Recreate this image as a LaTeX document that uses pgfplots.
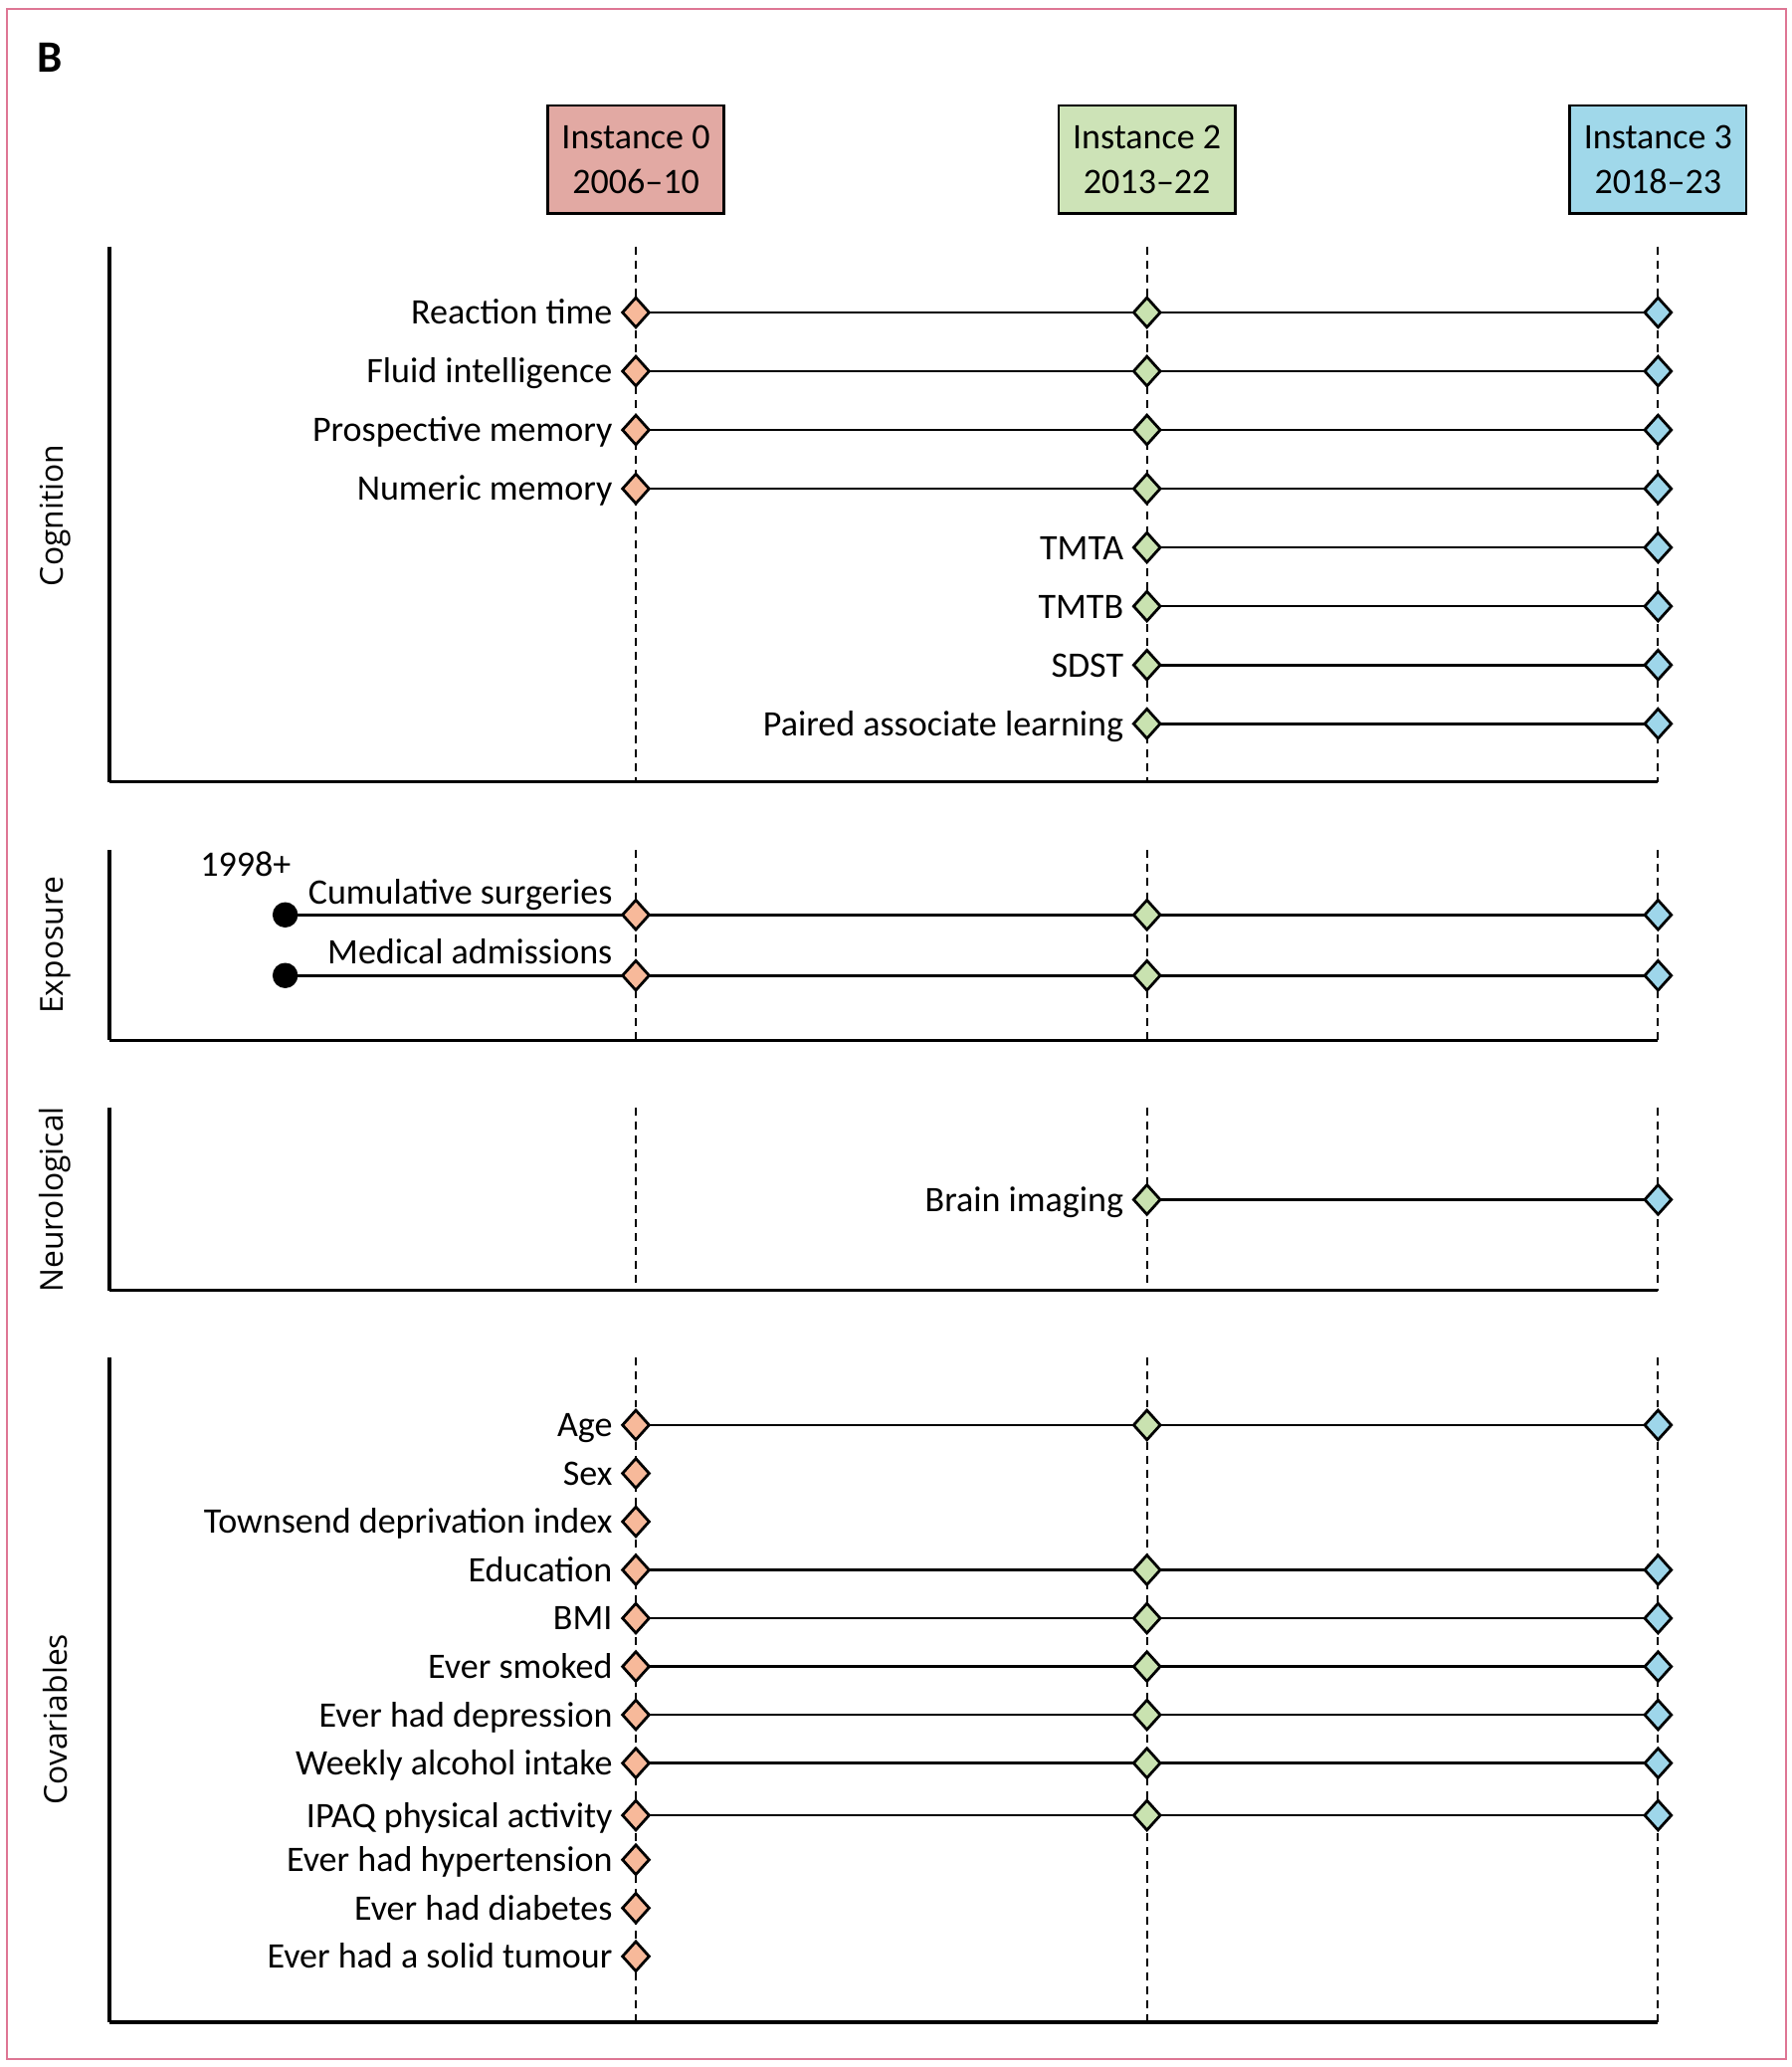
\documentclass[border=0pt]{standalone}
\usepackage{pgfplots}
\pgfplotsset{compat=1.18}
\usepackage{fontspec}
\setmainfont{Carlito}
\newfontfamily\labfont{Open Sans}
\definecolor{framepink}{RGB}{222,118,148}
\definecolor{boxA}{RGB}{226,169,163}
\definecolor{boxB}{RGB}{205,227,183}
\definecolor{boxC}{RGB}{160,216,234}
\definecolor{dA}{RGB}{247,185,154}
\definecolor{dB}{RGB}{201,226,176}
\definecolor{dC}{RGB}{158,214,234}
\newcommand\txt{\fontsize{13.6}{17}\selectfont}
\pgfplotsset{
  panel/.style={scale only axis, width=587.5pt, xmin=-1.03, xmax=2, y dir=reverse,
    axis x line=bottom, axis y line=left, axis line style={-, line width=1.2pt},
    xtick=\empty, ytick=\empty, clip=false},
  vdash/.style={line width=0.75pt, dash pattern=on 3pt off 2.3pt, black},
  rowline/.style={line width=1pt, black, no marks},
  mk/.style={only marks, mark=diamond*, mark options={xscale=1.2, fill=#1, draw=black, line width=1.05pt}, mark size=5.6pt},
}
\tikzset{
  inst/.style={draw=black, line width=1pt, fill=#1, minimum width=67pt, minimum height=41pt,
    align=center, font=\txt, inner sep=0pt},
  lab/.style={anchor=base east, inner sep=0pt, font=\txt, xshift=-8.7pt, yshift=-4.5pt},
  ylab/.style={rotate=90, anchor=center, inner sep=0pt, font=\labfont\fontsize{12}{14}\selectfont},
}
\begin{document}
\begin{tikzpicture}
\path[use as bounding box] (0,0) rectangle (679.5pt,-784pt);
\fill[white] (0,0) rectangle (679.5pt,-784pt);
\draw[framepink, line width=0.8pt] (2.5pt,-3.5pt) rectangle (677.5pt,-781pt);
\node[font=\bfseries\fontsize{17}{20}\selectfont, inner sep=0pt] at (19pt,-22pt) {B};

% ---------------- Cognition ----------------
\begin{axis}[panel, at={(41.5pt,-93.5pt)}, anchor=north west, height=203pt,
  ymin=-1.122, ymax=7.987]
\addplot[vdash] coordinates {(0,-1.122) (0,7.987)};
\addplot[vdash] coordinates {(1,-1.122) (1,7.987)};
\addplot[vdash] coordinates {(2,-1.122) (2,7.987)};
\addplot[rowline] coordinates {(0,0) (2,0)};
\addplot[rowline] coordinates {(0,1) (2,1)};
\addplot[rowline] coordinates {(0,2) (2,2)};
\addplot[rowline] coordinates {(0,3) (2,3)};
\addplot[rowline] coordinates {(1,4) (2,4)};
\addplot[rowline] coordinates {(1,5) (2,5)};
\addplot[rowline] coordinates {(1,6) (2,6)};
\addplot[rowline] coordinates {(1,7) (2,7)};
\addplot[mk=dA] coordinates {(0,0) (0,1) (0,2) (0,3)};
\addplot[mk=dB] coordinates {(1,0) (1,1) (1,2) (1,3) (1,4) (1,5) (1,6) (1,7)};
\addplot[mk=dC] coordinates {(2,0) (2,1) (2,2) (2,3) (2,4) (2,5) (2,6) (2,7)};
\node[lab] at (axis cs:0,0) {Reaction time};
\node[lab] at (axis cs:0,1) {Fluid intelligence};
\node[lab] at (axis cs:0,2) {Prospective memory};
\node[lab] at (axis cs:0,3) {Numeric memory};
\node[lab] at (axis cs:1,4) {TMTA};
\node[lab] at (axis cs:1,5) {TMTB};
\node[lab] at (axis cs:1,6) {SDST};
\node[lab] at (axis cs:1,7) {Paired associate learning};
\node[inst=boxA] at (axis cs:0,-2.603) {Instance 0\\2006--10};
\node[inst=boxB] at (axis cs:1,-2.603) {Instance 2\\2013--22};
\node[inst=boxC] at (axis cs:2,-2.603) {Instance 3\\2018--23};
\node[ylab] at (axis description cs:-0.0349,0.4975) {Cognition};
\end{axis}

% ---------------- Exposure ----------------
\begin{axis}[panel, at={(41.5pt,-322.5pt)}, anchor=north west, height=72pt,
  ymin=-1.065, ymax=2.065]
\addplot[vdash] coordinates {(0,-1.065) (0,2.065)};
\addplot[vdash] coordinates {(1,-1.065) (1,2.065)};
\addplot[vdash] coordinates {(2,-1.065) (2,2.065)};
\addplot[rowline] coordinates {(-0.686,0) (2,0)};
\addplot[rowline] coordinates {(-0.686,1) (2,1)};
\addplot[only marks, mark=*, mark size=4.6pt, black] coordinates {(-0.686,0) (-0.686,1)};
\addplot[mk=dA] coordinates {(0,0) (0,1)};
\addplot[mk=dB] coordinates {(1,0) (1,1)};
\addplot[mk=dC] coordinates {(2,0) (2,1)};
\node[lab, yshift=8.6pt] at (axis cs:0,0) {Cumulative surgeries};
\node[lab, yshift=8.8pt] at (axis cs:0,1) {Medical admissions};
\node[anchor=base east, inner sep=0pt, font=\txt] at (axis cs:-0.674,-0.64) {1998+};
\node[ylab] at (axis description cs:-0.0349,0.5) {Exposure};
\end{axis}

% ---------------- Neurological ----------------
\begin{axis}[panel, at={(41.5pt,-420pt)}, anchor=north west, height=69.5pt,
  ymin=-1.571, ymax=1.548]
\addplot[vdash] coordinates {(0,-1.571) (0,1.548)};
\addplot[vdash] coordinates {(1,-1.571) (1,1.548)};
\addplot[vdash] coordinates {(2,-1.571) (2,1.548)};
\addplot[rowline] coordinates {(1,0) (2,0)};
\addplot[mk=dB] coordinates {(1,0)};
\addplot[mk=dC] coordinates {(2,0)};
\node[lab] at (axis cs:1,0) {Brain imaging};
\node[ylab] at (axis description cs:-0.0349,0.496) {Neurological};
\end{axis}

% ---------------- Covariables ----------------
\begin{axis}[panel, at={(41.5pt,-515pt)}, anchor=north west, height=252pt,
  ymin=-1.392, ymax=12.364]
\addplot[vdash] coordinates {(0,-1.392) (0,12.364)};
\addplot[vdash] coordinates {(1,-1.392) (1,12.364)};
\addplot[vdash] coordinates {(2,-1.392) (2,12.364)};
\addplot[rowline] coordinates {(0,0) (2,0)};
\addplot[rowline] coordinates {(0,3) (2,3)};
\addplot[rowline] coordinates {(0,4) (2,4)};
\addplot[rowline] coordinates {(0,5) (2,5)};
\addplot[rowline] coordinates {(0,6) (2,6)};
\addplot[rowline] coordinates {(0,7) (2,7)};
\addplot[rowline] coordinates {(0,8.08) (2,8.08)};
\addplot[mk=dA] coordinates {(0,0) (0,1) (0,2) (0,3) (0,4) (0,5) (0,6) (0,7) (0,8.08) (0,9) (0,10) (0,11)};
\addplot[mk=dB] coordinates {(1,0) (1,3) (1,4) (1,5) (1,6) (1,7) (1,8.08)};
\addplot[mk=dC] coordinates {(2,0) (2,3) (2,4) (2,5) (2,6) (2,7) (2,8.08)};
\node[lab] at (axis cs:0,0) {Age};
\node[lab] at (axis cs:0,1) {Sex};
\node[lab] at (axis cs:0,2) {Townsend deprivation index};
\node[lab] at (axis cs:0,3) {Education};
\node[lab] at (axis cs:0,4) {BMI};
\node[lab] at (axis cs:0,5) {Ever smoked};
\node[lab] at (axis cs:0,6) {Ever had depression};
\node[lab] at (axis cs:0,7) {Weekly alcohol intake};
\node[lab] at (axis cs:0,8.08) {IPAQ physical activity};
\node[lab] at (axis cs:0,9) {Ever had hypertension};
\node[lab] at (axis cs:0,10) {Ever had diabetes};
\node[lab] at (axis cs:0,11) {Ever had a solid tumour};
\node[ylab] at (axis description cs:-0.0349,0.456) {Covariables};
\end{axis}
\end{tikzpicture}
\end{document}
